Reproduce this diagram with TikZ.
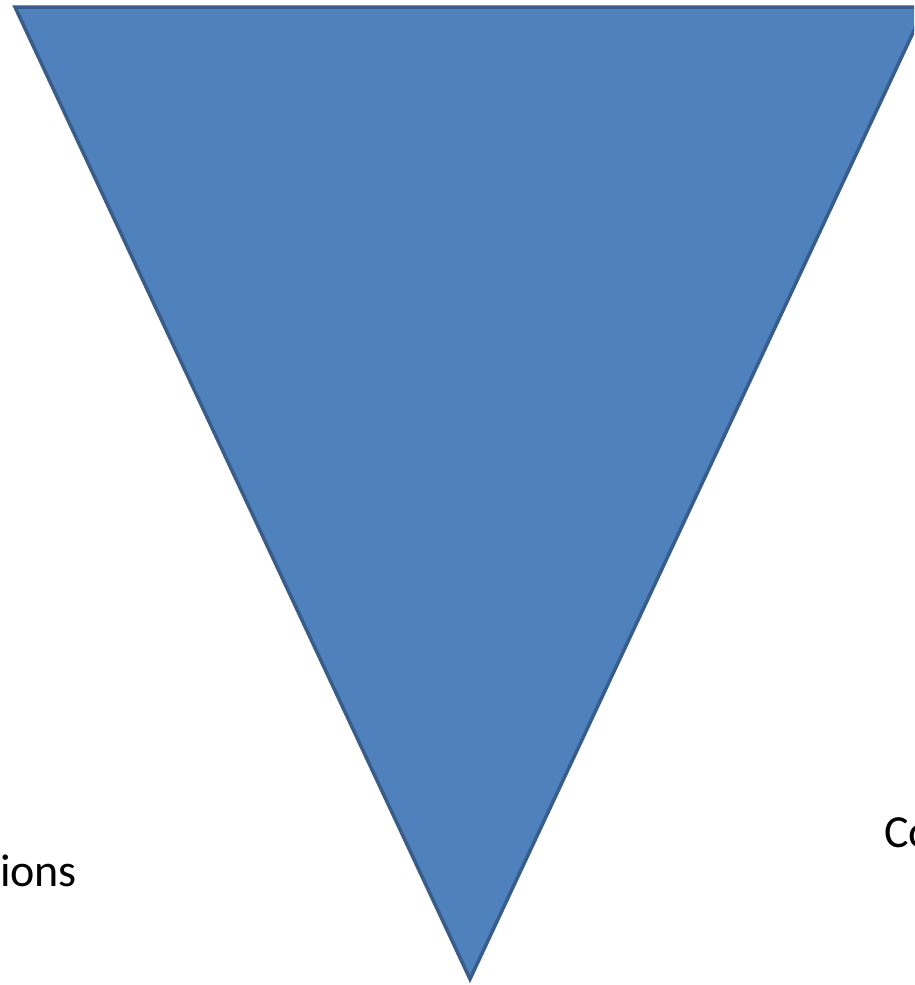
\documentclass[tikz,border=0pt]{standalone}
\usepackage{fontspec}
\setmainfont{Carlito}
\definecolor{triFill}{HTML}{4F81BD}
\definecolor{triLine}{HTML}{385D8A}
\tikzset{
  tri/.style={fill=triFill, draw=triLine, line width=3.5pt, line join=miter},
  lbl/.style={anchor=base west, inner sep=0pt, outer sep=0pt, text=black, font=\fontsize{46}{55}\selectfont}
}
\begin{document}
\begin{tikzpicture}[x=1pt,y=-1pt]
\useasboundingbox (0,0) rectangle (914,985);
\clip (0,0) rectangle (914,985);
\fill[white] (0,0) rectangle (914,985);
\coordinate (tl) at (15,7);
\coordinate (tr) at (925,7);
\coordinate (ap) at (470,979);
\draw[tri] (tl) -- (tr) -- (ap) -- cycle;
\node[lbl] (ions) at (0,886) {ions};
\node[lbl] (co) at (884,847) {Co};
\end{tikzpicture}
\end{document}
